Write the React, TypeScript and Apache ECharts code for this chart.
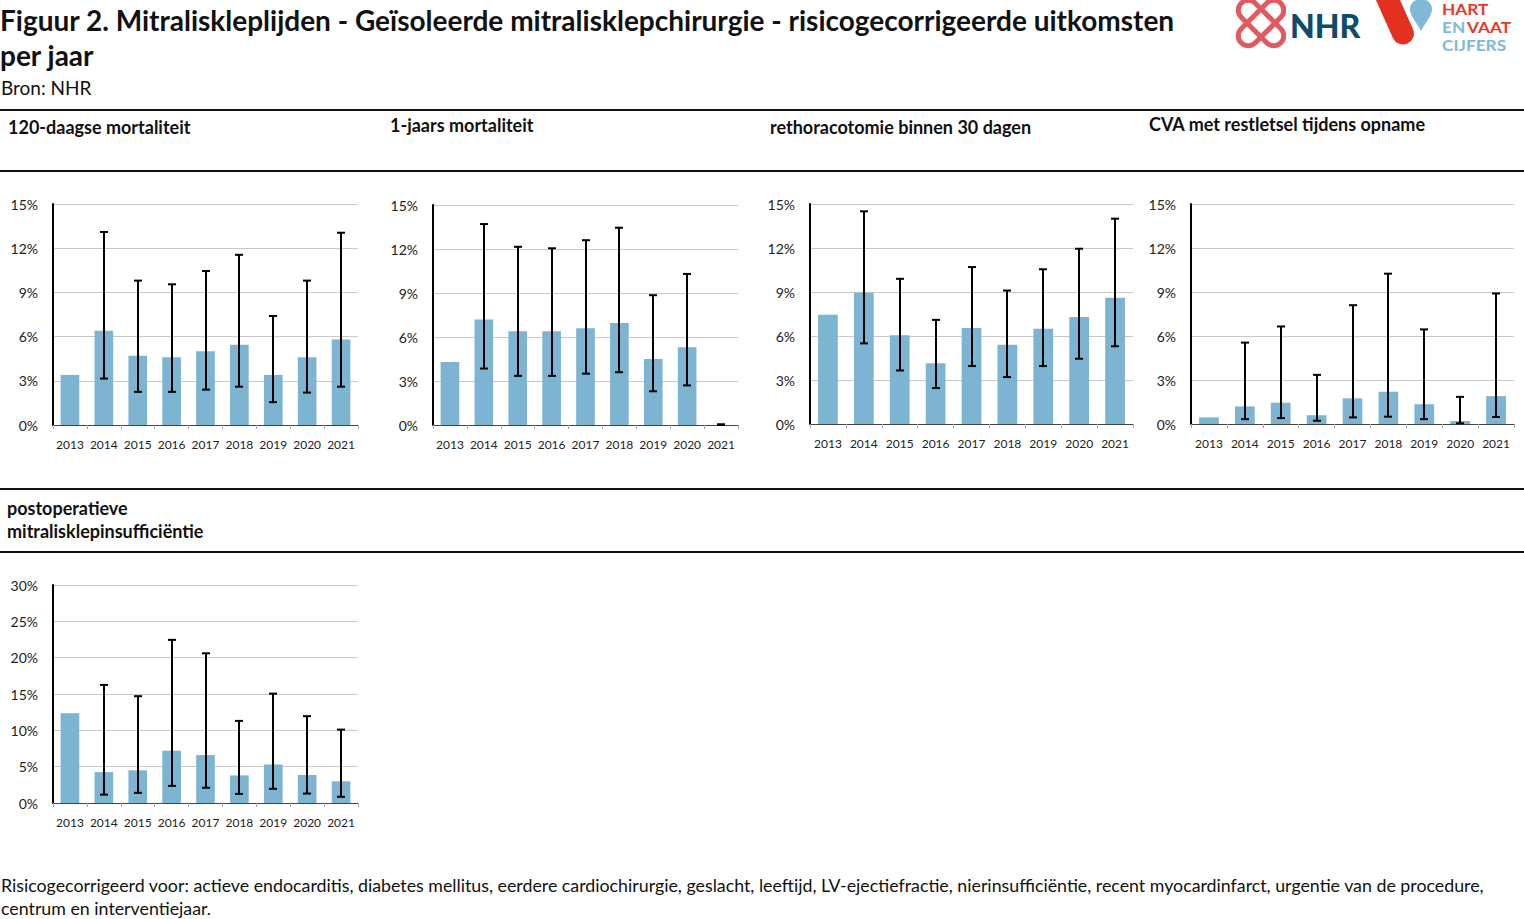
import React, { useEffect, useRef } from "react";
import * as echarts from "echarts";

const years = ["2013", "2014", "2015", "2016", "2017", "2018", "2019", "2020", "2021"];

const mort120 = [3.4, 6.4, 4.7, 4.6, 5.0, 5.45, 3.4, 4.6, 5.8];
const mort120Low = [null, 3.15, 2.25, 2.25, 2.4, 2.6, 1.55, 2.2, 2.6];
const mort120High = [null, 13.1, 9.8, 9.55, 10.45, 11.55, 7.4, 9.8, 13.05];

const mort1y = [4.3, 7.2, 6.4, 6.4, 6.6, 6.95, 4.5, 5.3, 0];
const mort1yLow = [null, 3.85, 3.35, 3.35, 3.5, 3.6, 2.3, 2.7, 0];
const mort1yHigh = [null, 13.7, 12.15, 12.05, 12.6, 13.45, 8.85, 10.3, 0.05];

const rethor = [7.45, 8.95, 6.05, 4.15, 6.55, 5.4, 6.5, 7.3, 8.6];
const rethorLow = [null, 5.5, 3.65, 2.45, 3.95, 3.2, 3.95, 4.45, 5.3];
const rethorHigh = [null, 14.5, 9.9, 7.1, 10.7, 9.1, 10.55, 11.95, 14.0];

const cva = [0.45, 1.2, 1.45, 0.6, 1.75, 2.2, 1.35, 0.2, 1.9];
const cvaLow = [null, 0.33, 0.4, 0.22, 0.45, 0.5, 0.33, 0.05, 0.48];
const cvaHigh = [null, 5.55, 6.65, 3.35, 8.1, 10.25, 6.45, 1.85, 8.9];

const mitral = [12.35, 4.25, 4.5, 7.2, 6.6, 3.8, 5.3, 3.85, 3.0];
const mitralLow = [null, 1.15, 1.4, 2.35, 2.1, 1.25, 1.95, 1.3, 0.85];
const mitralHigh = [null, 16.25, 14.7, 22.45, 20.6, 11.3, 15.05, 11.95, 10.1];

const panelTitles = [
  "120-daagse mortaliteit",
  "1-jaars mortaliteit",
  "rethoracotomie binnen 30 dagen",
  "CVA met restletsel tijdens opname",
];
const panel5Title = ["postoperatieve", "mitralisklepinsufficiëntie"];

const mainTitle1 = "Figuur 2. Mitraliskleplijden - Geïsoleerde mitralisklepchirurgie - risicogecorrigeerde uitkomsten";
const mainTitle2 = "per jaar";
const source = "Bron: NHR";
const footer1 =
  "Risicogecorrigeerd voor: actieve endocarditis, diabetes mellitus, eerdere cardiochirurgie, geslacht, leeftijd, LV-ejectiefractie, nierinsufficiëntie, recent myocardinfarct, urgentie van de procedure,";
const footer2 = "centrum en interventiejaar.";

const FONT = "Lato, 'Open Sans', sans-serif";
const BAR = "#7db4d2";

const DROP_D = "M 11 32 C 7 24 0 17 0 10 C 0 4 5 0 11 0 C 17 0 22 4 22 10 C 22 17 15 24 11 32 Z";

export default function App() {
  const ref = useRef<HTMLDivElement>(null);

  useEffect(() => {
    if (!ref.current) return;
    try {
      echarts.graphic.registerShape("drop", echarts.graphic.extendPath(DROP_D, {}));
    } catch (e) {}
    const chart = echarts.init(ref.current, null, { renderer: "svg" });

    const panels = [
      { vals: mort120, lo: mort120Low, hi: mort120High, max: 15, interval: 3, grid: { left: 53, top: 204, width: 305, height: 221 } },
      { vals: mort1y, lo: mort1yLow, hi: mort1yHigh, max: 15, interval: 3, grid: { left: 433, top: 205, width: 305, height: 220 } },
      { vals: rethor, lo: rethorLow, hi: rethorHigh, max: 15, interval: 3, grid: { left: 810, top: 204, width: 323, height: 220 } },
      { vals: cva, lo: cvaLow, hi: cvaHigh, max: 15, interval: 3, grid: { left: 1191, top: 204, width: 323, height: 220 } },
      { vals: mitral, lo: mitralLow, hi: mitralHigh, max: 30, interval: 5, grid: { left: 53, top: 585, width: 305, height: 218 } },
    ];

    const grids: any[] = [];
    const xAxes: any[] = [];
    const yAxes: any[] = [];
    const series: any[] = [];

    panels.forEach((p, i) => {
      grids.push({ ...p.grid, containLabel: false });
      xAxes.push({
        type: "category",
        gridIndex: i,
        data: years,
        axisLine: { show: true, lineStyle: { color: "#444", width: 1 } },
        axisTick: { show: true, length: 4, lineStyle: { color: "#aaa" } },
        axisLabel: { color: "#222", fontSize: 12, fontFamily: FONT, margin: 13, interval: 0 },
        splitLine: { show: false },
      });
      yAxes.push({
        type: "value",
        gridIndex: i,
        min: 0,
        max: p.max,
        interval: p.interval,
        axisLine: { show: true, lineStyle: { color: "#000", width: 2 } },
        axisTick: { show: false },
        axisLabel: { color: "#222", fontSize: 14, fontFamily: FONT, margin: 15, formatter: "{value}%" },
        splitLine: { show: true, lineStyle: { color: "#c8c8c8", width: 1 } },
      });
      series.push({
        type: "bar",
        xAxisIndex: i,
        yAxisIndex: i,
        data: p.vals,
        barWidth: "55%",
        itemStyle: { color: BAR },
        silent: true,
      });
      const errData: any[] = [];
      p.lo.forEach((l, k) => {
        if (l !== null && p.hi[k] !== null) errData.push([k, l, p.hi[k]]);
      });
      series.push({
        type: "custom",
        xAxisIndex: i,
        yAxisIndex: i,
        data: errData,
        encode: { x: 0, y: [1, 2] },
        silent: true,
        z: 5,
        renderItem: (params: any, api: any) => {
          const idx = api.value(0);
          const lo = api.coord([idx, api.value(1)]);
          const hi = api.coord([idx, api.value(2)]);
          const cx = Math.round(lo[0]);
          const hw = 4;
          const st = { stroke: "#000", lineWidth: 2 };
          return {
            type: "group",
            children: [
              { type: "line", shape: { x1: cx, y1: lo[1], x2: cx, y2: hi[1] }, style: st },
              { type: "line", shape: { x1: cx - hw, y1: hi[1], x2: cx + hw, y2: hi[1] }, style: st },
              { type: "line", shape: { x1: cx - hw, y1: lo[1], x2: cx + hw, y2: lo[1] }, style: st },
            ],
          };
        },
      });
    });

    const txt = (text: string, x: number, y: number, size: number, weight: string, fill = "#111", sx = 1) => ({
      type: "text",
      x,
      y,
      scaleX: sx,
      silent: true,
      style: {
        text,
        fontSize: size,
        fontWeight: weight,
        fontFamily: FONT,
        fill,
        verticalAlign: "middle",
        align: "left",
      },
    });
    const hline = (y: number) => ({
      type: "line",
      silent: true,
      shape: { x1: 0, y1: y, x2: 1524, y2: y },
      style: { stroke: "#111", lineWidth: 2 },
    });

    const graphic: any[] = [
      txt(mainTitle1, 0, 20, 28, "bold"),
      txt(mainTitle2, 0, 55, 28, "bold"),
      txt(source, 1, 87, 19, "normal"),
      hline(110),
      hline(171),
      hline(489),
      hline(552),
      txt(panelTitles[0], 8, 127, 18, "bold"),
      txt(panelTitles[1], 390, 125, 18, "bold"),
      txt(panelTitles[2], 770, 127, 18, "bold"),
      txt(panelTitles[3], 1149, 124, 18, "bold"),
      txt(panel5Title[0], 7, 508, 18, "bold"),
      txt(panel5Title[1], 7, 531, 18, "bold"),
      txt(footer1, 1, 885, 17.8, "normal"),
      txt(footer2, 1, 908, 17.8, "normal"),
      // NHR knot logo
      {
        type: "rect",
        silent: true,
        x: 1261,
        y: 23,
        rotation: Math.PI / 4,
        shape: { x: -28, y: -10, width: 56, height: 20, r: 10 },
        style: { fill: "none", stroke: "#e15a60", lineWidth: 5 },
      },
      {
        type: "rect",
        silent: true,
        x: 1261,
        y: 23,
        rotation: -Math.PI / 4,
        shape: { x: -28, y: -10, width: 56, height: 20, r: 10 },
        style: { fill: "none", stroke: "#e15a60", lineWidth: 5 },
      },
      txt("NHR", 1290, 25, 32, "900", "#0e4b69"),
      // Hart en Vaat cijfers logo
      {
        type: "rect",
        silent: true,
        x: 1396,
        y: 18,
        rotation: 0.42,
        shape: { x: -11, y: -36, width: 22, height: 64, r: 11 },
        style: { fill: "#e2321f" },
      },
      {
        type: "drop",
        silent: true,
        x: 1410,
        y: -1,
        scaleX: 1,
        scaleY: 1,
        style: { fill: "#80b9d8" },
      },
      txt("HART", 1442, 9, 15, "bold", "#e8382b", 1.15),
      txt("EN", 1442, 27, 15, "bold", "#80b9d8", 1.15),
      txt("VAAT", 1467, 27, 15, "bold", "#e8382b", 1.15),
      txt("CIJFERS", 1442, 45, 15, "bold", "#80b9d8", 1.15),
    ];

    chart.setOption({
      animation: false,
      grid: grids,
      xAxis: xAxes,
      yAxis: yAxes,
      series,
      graphic,
    });

    return () => chart.dispose();
  }, []);

  return (
    <div
      ref={ref}
      style={{ position: "absolute", left: 0, top: 0, width: 1524, height: 919, background: "#fff" }}
    />
  );
}
